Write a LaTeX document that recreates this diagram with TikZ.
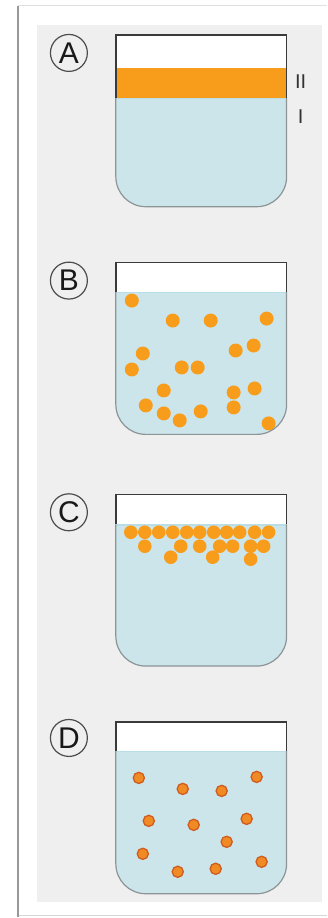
\documentclass[tikz,border=0pt]{standalone}
\usepackage{fontspec}
\setmainfont{Liberation Sans}
\begin{document}
\definecolor{panelgray}{HTML}{EFEFEF}
\definecolor{water}{HTML}{CCE5EA}
\definecolor{watertop}{HTML}{B9DEE6}
\definecolor{oil}{HTML}{F89C1C}
\definecolor{dropfill}{HTML}{F08A24}
\definecolor{dropline}{HTML}{CF5C1E}
\definecolor{rimgray}{HTML}{3A3A3A}
\definecolor{wallgray}{HTML}{8C9496}
\begin{tikzpicture}[x=1pt,y=-1pt,
  tag/.style={circle,draw=black!70,line width=1.2pt,inner sep=0pt,minimum size=37pt,
    font=\fontsize{30}{30}\selectfont,text=black!90},
  layerlabel/.style={font=\fontsize{20}{20}\selectfont,text=black!80,inner sep=0pt},
  drop/.style={fill=oil,draw=none},
  smalldrop/.style={fill=dropfill,draw=dropline,line width=1.3pt}]
% sheet, shadowed frame and panel
\fill[white] (0,0) rectangle (327,918);
\draw[black!12,line width=1pt] (18,6) -- (327,6);
\draw[black!16,line width=1pt] (18,916.5) -- (327,916.5);
\draw[black!40,line width=2.6pt] (18,6) -- (18,918);
\fill[panelgray] (37,25) rectangle (322,903);
% a beaker: #1 = rim, #2 = liquid surface
\newcommand{\beakerpath}[1]{(116,#1) -- (116,#1+142)
  .. controls (116,#1+158.6) and (129.4,#1+172) .. (146,#1+172)
  -- (257,#1+172)
  .. controls (273.6,#1+172) and (287,#1+158.6) .. (287,#1+142)
  -- (287,#1) -- cycle}
\newcommand{\drawbeaker}[2]{%
  \fill[white] \beakerpath{#1};
  \begin{scope}
    \clip \beakerpath{#1};
    \fill[water] (110,#2) rectangle (295,#1+180);
    \draw[watertop,line width=1.5pt] (116,#2+0.75) -- (287,#2+0.75);
  \end{scope}
  \draw[wallgray,line width=1.2pt] (116,#2) -- (116,#1+142)
    .. controls (116,#1+158.6) and (129.4,#1+172) .. (146,#1+172)
    -- (257,#1+172)
    .. controls (273.6,#1+172) and (287,#1+158.6) .. (287,#1+142) -- (287,#2);
  \draw[rimgray,line width=1.6pt,line join=miter] (116,#2) -- (116,#1) -- (287,#1) -- (287,#2);
}
% A: oil layer over water
\drawbeaker{35}{98}
\fill[oil] (116.8,68) rectangle (286.2,98);
\node[tag] (tagA) at (69,53) {A};
\node[layerlabel] (labII) at (301,82) {II};
\node[layerlabel] (labI) at (301,117) {I};
% B: large droplets spread through the water
\drawbeaker{263}{292}
\foreach \px/\py in {132/301,173/321,211/321,267/319,143/354,236/351,254/346,
  132/370,182/368,198/368,164/391,234/393,255/389,146/406,164/414,180/421,
  201/412,234/408,269/424}
  \fill[drop] (\px,\py) circle (7);
\node[tag] (tagB) at (69,281) {B};
% C: droplets gathered under the surface
\drawbeaker{495}{525}
\foreach \px/\py in {171/558,213/558,251/560,
  145/547,181/547,200/547,220/547,233/547,251/547,264/547,
  131/533,145/533,159/533,173/533,187/533,200/533,214/533,227/533,240/533,255/533,269/533}
  \fill[drop] (\px,\py) circle (6.8);
\node[tag] (tagC) at (69,513) {C};
% D: small stable droplets
\drawbeaker{723}{752}
\foreach \px/\py in {139/779,183/790,222/792,257/778,149/822,194/826,247/820,
  227/843,143/855,178/873,216/870,262/863}
  \filldraw[smalldrop] (\px,\py) circle (5.6);
\node[tag] (tagD) at (69,739) {D};
\end{tikzpicture}
\end{document}
